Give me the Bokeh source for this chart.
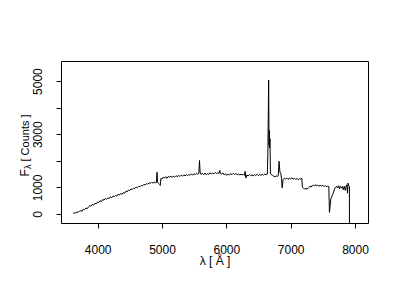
import math
from bokeh.plotting import figure
from bokeh.models import FixedTicker, Label, Range1d
from bokeh.embed import file_html
from bokeh.resources import INLINE

# Spectrum (wavelength in Angstrom, counts)
wavelength = [
    3610, 3630, 3650, 3670, 3690, 3710, 3730, 3750, 3770, 3790,
    3810, 3830, 3850, 3870, 3890, 3910, 3930, 3950, 3970, 3990,
    4010, 4030, 4050, 4070, 4090, 4110, 4130, 4150, 4170, 4190,
    4210, 4230, 4250, 4270, 4290, 4310, 4330, 4350, 4370, 4390,
    4410, 4430, 4450, 4470, 4490, 4510, 4530, 4550, 4570, 4590,
    4610, 4630, 4650, 4670, 4690, 4710, 4730, 4750, 4770, 4790,
    4810, 4830, 4850, 4870, 4890, 4905, 4915, 4925, 4940, 4955,
    4965, 4975, 4990, 5010, 5030, 5050, 5070, 5090, 5110, 5130,
    5150, 5170, 5190, 5210, 5230, 5250, 5270, 5290, 5310, 5330,
    5350, 5370, 5390, 5410, 5430, 5450, 5470, 5490, 5510, 5530,
    5550, 5565, 5575, 5585, 5600, 5620, 5640, 5660, 5680, 5700,
    5720, 5740, 5760, 5780, 5800, 5820, 5840, 5860, 5880, 5890,
    5900, 5920, 5940, 5960, 5980, 6000, 6020, 6040, 6060, 6080,
    6100, 6120, 6140, 6160, 6180, 6200, 6220, 6240, 6260, 6275,
    6285, 6295, 6310, 6330, 6350, 6370, 6390, 6410, 6430, 6450,
    6470, 6490, 6510, 6530, 6550, 6570, 6590, 6610, 6630, 6638,
    6650, 6656, 6660, 6665, 6670, 6678, 6690, 6710, 6730, 6750,
    6770, 6790, 6800, 6812, 6825, 6840, 6850, 6860, 6875, 6890,
    6910, 6930, 6950, 6970, 6990, 7010, 7030, 7050, 7070, 7090,
    7110, 7130, 7150, 7165, 7175, 7190, 7210, 7230, 7250, 7270,
    7290, 7310, 7330, 7350, 7370, 7390, 7410, 7430, 7450, 7470,
    7490, 7510, 7530, 7550, 7570, 7585, 7595, 7605, 7615, 7630,
    7645, 7660, 7675, 7690, 7705, 7720, 7735, 7750, 7765, 7780,
    7795, 7810, 7825, 7840, 7855, 7865, 7875, 7885, 7895, 7905,
    7906,
]
flux = [
    45, 60, 55, 90, 80, 130, 145, 120, 200, 185,
    240, 215, 290, 330, 310, 380, 350, 420, 400, 470,
    455, 520, 480, 560, 540, 600, 570, 620, 600, 660,
    625, 690, 670, 720, 690, 760, 730, 790, 760, 820,
    800, 870, 850, 920, 900, 960, 940, 990, 975, 1030,
    1010, 1060, 1040, 1090, 1075, 1130, 1110, 1160, 1140, 1190,
    1170, 1210, 1180, 1220, 1190, 1200, 1590, 1200, 1170, 1130,
    1090, 1360, 1330, 1400, 1370, 1420, 1360, 1430, 1400, 1450,
    1390, 1440, 1410, 1460, 1420, 1470, 1430, 1480, 1440, 1490,
    1450, 1500, 1460, 1510, 1470, 1520, 1490, 1530, 1500, 1550,
    1510, 1540, 2030, 1560, 1510, 1550, 1500, 1560, 1490, 1540,
    1510, 1570, 1520, 1560, 1530, 1580, 1540, 1570, 1550, 1660,
    1540, 1520, 1560, 1490, 1530, 1470, 1520, 1490, 1540, 1500,
    1550, 1510, 1540, 1490, 1530, 1480, 1520, 1490, 1510, 1470,
    1620, 1370, 1480, 1450, 1500, 1460, 1490, 1450, 1500, 1470,
    1510, 1460, 1500, 1470, 1510, 1480, 1520, 1490, 1520, 2340,
    5050, 2600, 3160, 2500, 2850, 1560, 1500, 1470, 1440, 1420,
    1450, 1430, 1480, 2000, 1600, 1530, 1350, 1000, 1320, 1360,
    1330, 1370, 1320, 1360, 1340, 1380, 1330, 1360, 1320, 1350,
    1310, 1350, 1330, 1360, 1020, 990, 960, 980, 950, 1010,
    1060, 1030, 1100, 1070, 1120, 1080, 1110, 1060, 1100, 1070,
    1100, 1050, 1090, 1040, 1070, 1050, 80, 300, 580, 650,
    760, 840, 980, 1000, 1060, 1010, 1080, 960, 1070, 990,
    1050, 930, 1060, 910, 1070, 1120, 800, 1180, 1080, 1060,
    -600,
]
assert len(wavelength) == len(flux)

x_ticks = [4000, 5000, 6000, 7000, 8000]
y_ticks = [0, 1000, 2000, 3000, 4000, 5000]
y_tick_labels = {0: "0", 1000: "1000", 2000: "", 3000: "3000", 4000: "", 5000: "5000"}

FONT = "Liberation Sans"
X0, X1 = 3430, 8202
Y0, Y1 = -340, 5755
LEFT, TOP, FW, FH = 61, 61, 307, 162

p = figure(width=400, height=300, output_backend="svg", toolbar_location=None,
           x_range=Range1d(X0, X1), y_range=Range1d(Y0, Y1),
           min_border_left=LEFT, min_border_right=400 - LEFT - FW,
           min_border_top=TOP, min_border_bottom=300 - TOP - FH)

p.line(wavelength, flux, line_color="black", line_width=1)

p.grid.visible = False
p.outline_line_color = "black"
p.outline_line_width = 1
p.background_fill_color = "white"
p.border_fill_color = "white"

for ax in (p.xaxis[0], p.yaxis[0]):
    ax.axis_line_color = None
    ax.major_tick_line_color = "black"
    ax.major_tick_out = 5
    ax.major_tick_in = 0
    ax.minor_tick_line_color = None
    ax.major_label_text_font = FONT
    ax.major_label_text_font_size = "12px"
    ax.major_label_text_color = "black"
    ax.axis_label_text_font = FONT
    ax.axis_label_text_font_size = "12px"
    ax.axis_label_text_font_style = "normal"
    ax.axis_label_text_color = "black"

p.xaxis[0].ticker = FixedTicker(ticks=x_ticks)
p.xaxis[0].major_label_standoff = 16
p.xaxis[0].axis_label = "λ [ Å ]"
p.xaxis[0].axis_label_standoff = -3

p.yaxis[0].ticker = FixedTicker(ticks=y_ticks)
p.yaxis[0].major_label_overrides = y_tick_labels
p.yaxis[0].major_label_orientation = "parallel"
p.yaxis[0].major_label_standoff = 14


def to_data(sx, sy):
    """Convert a canvas pixel position to data coordinates (for text placement)."""
    x = X0 + (sx - LEFT) / FW * (X1 - X0)
    y = Y0 + (TOP + FH - sy) / FH * (Y1 - Y0)
    return x, y


# y-axis title "F_λ [ Counts ]" built from pieces (subscript lambda).
# The pieces live in side panels that have spare room (so they are not clipped
# to the frame and do not move the frame); their data positions put them left
# of the y axis.
common = dict(angle=math.pi / 2, text_font=FONT, text_color="black",
              text_baseline="alphabetic", text_align="left")
fx, fy = to_data(24.5, 176)
lx, ly = to_data(27.5, 168.5)
cx, cy = to_data(24.5, 161)
p.add_layout(Label(x=fx, y=fy, text="F", text_font_size="12px", **common), "right")
p.add_layout(Label(x=lx, y=ly, text="λ", text_font_size="9px", **common), "right")
p.add_layout(Label(x=cx, y=cy, text="[ Counts ]", text_font_size="11px", **common), "above")

open("out.html", "w").write(file_html(p, INLINE))
